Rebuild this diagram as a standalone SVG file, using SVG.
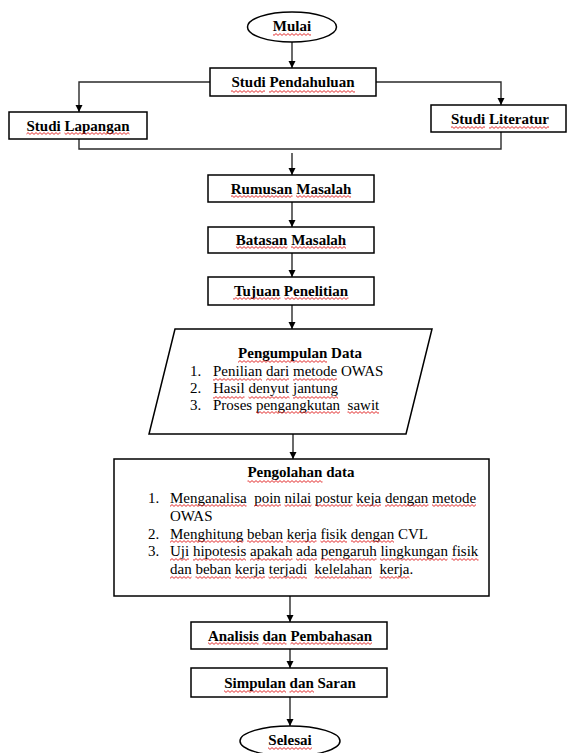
<svg xmlns="http://www.w3.org/2000/svg" width="568" height="753" viewBox="0 0 568 753">
<style>
text{font-family:"Liberation Serif","Times New Roman",serif;font-size:15px;fill:#000;white-space:pre}
.b{font-weight:bold}
.c{text-anchor:middle}
.box{fill:#fff;stroke:#000;stroke-width:1.5}
.con{fill:none;stroke:#2a2a2a;stroke-width:1.4}
.w{fill:url(#wv)}
</style>
<defs>
<marker id="ah" viewBox="0 0 10 10" refX="10" refY="5" markerWidth="7" markerHeight="8" markerUnits="userSpaceOnUse" orient="auto">
<path d="M0,0 L10,5 L0,10 z" fill="#000"/>
</marker>
<pattern id="wv" width="4" height="3" patternUnits="userSpaceOnUse">
<path d="M0,0.6 L2,2.4 L4,0.6" fill="none" stroke="#e01818" stroke-width="0.9"/>
</pattern>
</defs>
<g id="connectors">
<path class="con" d="M292,42 V68" marker-end="url(#ah)"/>
<path class="con" d="M210,82 H79 V112" marker-end="url(#ah)"/>
<path class="con" d="M376,82 H501 V105" marker-end="url(#ah)"/>
<path class="con" d="M79,139 V149 H501 V132"/>
<path class="con" d="M292,153 V175" marker-end="url(#ah)"/>
<path class="con" d="M292,202 V227" marker-end="url(#ah)"/>
<path class="con" d="M292,253 V277" marker-end="url(#ah)"/>
<path class="con" d="M292,305 V329" marker-end="url(#ah)"/>
<path class="con" d="M293,434 V459" marker-end="url(#ah)"/>
<path class="con" d="M290,596 V622" marker-end="url(#ah)"/>
<path class="con" d="M290,649 V668" marker-end="url(#ah)"/>
<path class="con" d="M290,697 V726" marker-end="url(#ah)"/>
</g>
<g id="mulai">
<ellipse class="box" cx="292" cy="27" rx="44.5" ry="15"/>
<text class="b c" x="292" y="31"><tspan>Mulai</tspan></text>
</g>
<g id="studi-pendahuluan">
<rect class="box" x="210" y="68" width="166" height="28"/>
<text class="b c" x="293" y="87"><tspan>Studi</tspan> <tspan>Pendahuluan</tspan></text>
</g>
<g id="studi-lapangan">
<rect class="box" x="9" y="112" width="138" height="27"/>
<text class="b c" x="78" y="130.5"><tspan>Studi</tspan> <tspan>Lapangan</tspan></text>
</g>
<g id="studi-literatur">
<rect class="box" x="431" y="105" width="135" height="27"/>
<text class="b c" x="500" y="123.5"><tspan>Studi</tspan> <tspan>Literatur</tspan></text>
</g>
<g id="rumusan-masalah">
<rect class="box" x="208" y="175" width="166" height="27"/>
<text class="b c" x="291" y="193.5"><tspan>Rumusan</tspan> <tspan>Masalah</tspan></text>
</g>
<g id="batasan-masalah">
<rect class="box" x="208" y="227" width="166" height="26"/>
<text class="b c" x="291" y="245"><tspan>Batasan</tspan> <tspan>Masalah</tspan></text>
</g>
<g id="tujuan-penelitian">
<rect class="box" x="208" y="277" width="166" height="28"/>
<text class="b c" x="291" y="296"><tspan>Tujuan</tspan> <tspan>Penelitian</tspan></text>
</g>
<g id="pengumpulan-data">
<polygon class="box" points="175,329 432,329 406,434 149,434"/>
<text class="b c" x="300" y="358"><tspan>Pengumpulan</tspan> Data</text>
<text x="190" y="376">1.</text>
<text x="213" y="376"><tspan>Penilian</tspan> <tspan>dari</tspan> <tspan>metode</tspan> OWAS</text>
<text x="190" y="393">2.</text>
<text x="213" y="393"><tspan>Hasil</tspan> <tspan>denyut</tspan> <tspan>jantung</tspan></text>
<text x="190" y="410">3.</text>
<text x="213" y="410">Proses <tspan>pengangkutan</tspan>  <tspan>sawit</tspan></text>
</g>
<g id="pengolahan-data">
<rect class="box" x="114" y="459" width="375" height="137"/>
<text class="b c" x="301" y="477"><tspan>Pengolahan</tspan> data</text>
<text x="148" y="503">1.</text>
<text x="170" y="503"><tspan>Menganalisa</tspan>  <tspan>poin</tspan> <tspan>nilai</tspan> <tspan>postur</tspan> <tspan>keja</tspan> <tspan>dengan</tspan> <tspan>metode</tspan></text>
<text x="170" y="521">OWAS</text>
<text x="148" y="539">2.</text>
<text x="170" y="539"><tspan>Menghitung</tspan> <tspan>beban</tspan> <tspan>kerja</tspan> <tspan>fisik</tspan> <tspan>dengan</tspan> CVL</text>
<text x="148" y="556">3.</text>
<text x="170" y="556"><tspan>Uji</tspan> <tspan>hipotesis</tspan> <tspan>apakah</tspan> <tspan>ada</tspan> <tspan>pengaruh</tspan> <tspan>lingkungan</tspan> <tspan>fisik</tspan></text>
<text x="170" y="574"><tspan>dan</tspan> <tspan>beban</tspan> <tspan>kerja</tspan> <tspan>terjadi</tspan>  <tspan>kelelahan</tspan>  <tspan>kerja</tspan>.</text>
</g>
<g id="analisis-pembahasan">
<rect class="box" x="191" y="622" width="196" height="27"/>
<text class="b c" x="290" y="640.5"><tspan>Analisis</tspan> <tspan>dan</tspan> <tspan>Pembahasan</tspan></text>
</g>
<g id="simpulan-saran">
<rect class="box" x="191" y="668" width="196" height="29"/>
<text class="b c" x="290" y="687.5"><tspan>Simpulan</tspan> <tspan>dan</tspan> Saran</text>
</g>
<g id="selesai">
<ellipse class="box" cx="290" cy="741" rx="50" ry="15"/>
<text class="b c" x="290" y="745"><tspan>Selesai</tspan></text>
</g>
<g id="spellcheck-underlines">
<rect class="w" x="273" y="33" width="38" height="3"/>
<rect class="w" x="231" y="90" width="34" height="3"/>
<rect class="w" x="269" y="90" width="86" height="3"/>
<rect class="w" x="26.5" y="132" width="34" height="3"/>
<rect class="w" x="64.5" y="132" width="65" height="3"/>
<rect class="w" x="451" y="126" width="34" height="3"/>
<rect class="w" x="489" y="126" width="60" height="3"/>
<rect class="w" x="231" y="195" width="61.5" height="3"/>
<rect class="w" x="296" y="195" width="55" height="3"/>
<rect class="w" x="236" y="246" width="51.5" height="3"/>
<rect class="w" x="291" y="246" width="55" height="3"/>
<rect class="w" x="233" y="297" width="47.5" height="3"/>
<rect class="w" x="284.5" y="297" width="64" height="3"/>
<rect class="w" x="238" y="360" width="89" height="3"/>
<rect class="w" x="213" y="378" width="49" height="3"/>
<rect class="w" x="266" y="378" width="23" height="3"/>
<rect class="w" x="293" y="378" width="44" height="3"/>
<rect class="w" x="213" y="396" width="31.5" height="3"/>
<rect class="w" x="248.5" y="396" width="41" height="3"/>
<rect class="w" x="293" y="396" width="45" height="3"/>
<rect class="w" x="256" y="411" width="84" height="3"/>
<rect class="w" x="347.5" y="411" width="31.5" height="3"/>
<rect class="w" x="247.5" y="480" width="75" height="3"/>
<rect class="w" x="170" y="504" width="76.5" height="3"/>
<rect class="w" x="254" y="504" width="27" height="3"/>
<rect class="w" x="284.5" y="504" width="27" height="3"/>
<rect class="w" x="315" y="504" width="37.5" height="3"/>
<rect class="w" x="356" y="504" width="25" height="3"/>
<rect class="w" x="385" y="504" width="43.5" height="3"/>
<rect class="w" x="432" y="504" width="44" height="3"/>
<rect class="w" x="170" y="540" width="73.5" height="3"/>
<rect class="w" x="247" y="540" width="36" height="3"/>
<rect class="w" x="286.5" y="540" width="30" height="3"/>
<rect class="w" x="320.5" y="540" width="26.5" height="3"/>
<rect class="w" x="351" y="540" width="43" height="3"/>
<rect class="w" x="170" y="558" width="19" height="3"/>
<rect class="w" x="193" y="558" width="53" height="3"/>
<rect class="w" x="250" y="558" width="42.5" height="3"/>
<rect class="w" x="296" y="558" width="21" height="3"/>
<rect class="w" x="321" y="558" width="55.5" height="3"/>
<rect class="w" x="380" y="558" width="67.5" height="3"/>
<rect class="w" x="451.5" y="558" width="27" height="3"/>
<rect class="w" x="170" y="576" width="21.5" height="3"/>
<rect class="w" x="195.5" y="576" width="35.5" height="3"/>
<rect class="w" x="235" y="576" width="30" height="3"/>
<rect class="w" x="268.5" y="576" width="38.5" height="3"/>
<rect class="w" x="314.5" y="576" width="57.5" height="3"/>
<rect class="w" x="379.5" y="576" width="30" height="3"/>
<rect class="w" x="208" y="642" width="50.5" height="3"/>
<rect class="w" x="262.5" y="642" width="24" height="3"/>
<rect class="w" x="290.5" y="642" width="81.5" height="3"/>
<rect class="w" x="224" y="690" width="62" height="3"/>
<rect class="w" x="289.5" y="690" width="24.5" height="3"/>
<rect class="w" x="268" y="747" width="44" height="3"/>
</g>
</svg>
